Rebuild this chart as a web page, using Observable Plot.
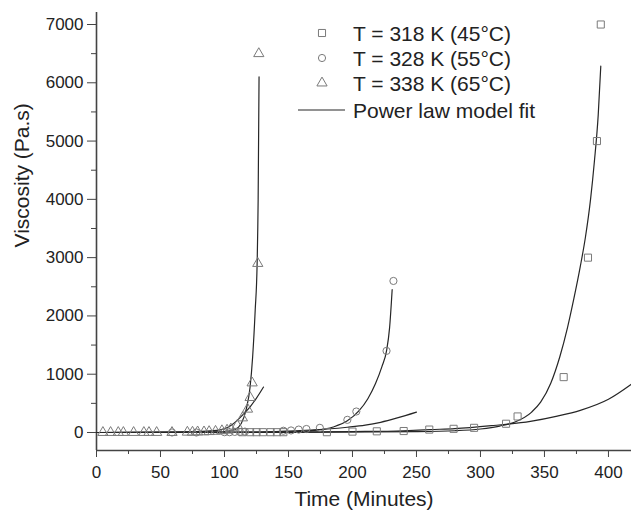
<!DOCTYPE html>
<html><head><meta charset="utf-8">
<script src="https://cdn.jsdelivr.net/npm/d3@7"></script>
<script src="https://cdn.jsdelivr.net/npm/@observablehq/plot@0.6"></script>
<style>
body{margin:0;background:#fff;}
#wrap{position:relative;width:631px;height:516px;font-family:"Liberation Sans",Arial,sans-serif;}
#legend{position:absolute;left:0;top:0;pointer-events:none;}
</style></head><body><div id="wrap"></div>
<script>
// ---- measured data (time in minutes, viscosity in Pa.s) ----
const t318 = [114, 120, 125, 130, 136, 141, 146, 180, 200, 219, 240, 260, 279, 295, 320, 329, 365, 384, 391, 394];
const v318 = [5, 5, 5, 5, 5, 5, 5, 5, 15, 20, 25, 50, 63, 80, 150, 275, 950, 3000, 5000, 7000];

const t328 = [59, 78, 100, 104, 108, 112, 116, 146, 152, 158, 164, 174.5, 196, 203, 226.6, 232];
const v328 = [0, 0, 5, 5, 10, 10, 15, 30, 35, 50, 60, 80, 217, 360, 1400, 2600];

const t338 = [5, 11, 17, 21, 29, 37, 41, 47, 59, 71, 75, 79, 84, 88, 93, 98, 102, 105, 110, 114, 118, 120, 121.6, 126, 126.8];
const v338 = [0, 0, 0, 0, 0, 0, 0, 0, 0, 5, 5, 10, 10, 15, 20, 30, 40, 60, 120, 250, 400, 600, 850, 2900, 6500];

// ---- power law model fit curves ----
const fit318aT = [0, 150, 250, 280, 300, 315, 327, 340, 347, 355, 362, 368, 373, 378, 382, 386, 389, 392, 394];
const fit318aV = [0, 2, 15, 30, 60, 110, 180, 350, 520, 850, 1300, 1800, 2300, 2850, 3350, 4000, 4650, 5450, 6285];
const fit318bT = [0, 150, 200, 240, 261, 280, 310, 339, 360, 378, 400, 418];
const fit318bV = [0, 5, 15, 30, 50, 65, 120, 190, 280, 380, 570, 830];

const fit328aT = [0, 120, 150, 170, 185, 196, 205, 212, 218, 223, 226.6, 229, 231];
const fit328aV = [0, 2, 10, 35, 95, 200, 370, 580, 840, 1130, 1400, 1800, 2450];
const fit328bT = [0, 120, 150, 180, 196, 210, 222, 235, 250];
const fit328bV = [0, 5, 25, 60, 90, 125, 175, 250, 350];

const fit338aT = [0, 60, 90, 100, 108, 113, 117, 120, 122, 124, 125.5, 126.3, 127];
const fit338aV = [0, 2, 8, 15, 50, 150, 400, 780, 1300, 2100, 2900, 4000, 6100];
const fit338bT = [0, 60, 94, 105, 115, 120, 125, 130.5];
const fit338bV = [0, 5, 35, 120, 320, 440, 590, 780];

const seriesLabels = ["T = 318 K (45°C)", "T = 328 K (55°C)", "T = 338 K (65°C)"];
const fitLabel = "Power law model fit";
const xMajor = [0, 50, 100, 150, 200, 250, 300, 350, 400];
const xMinor = [25, 75, 125, 175, 225, 275, 325, 375];
const yMajor = [0, 1000, 2000, 3000, 4000, 5000, 6000, 7000];
const yMinor = [500, 1500, 2500, 3500, 4500, 5500, 6500];

const pts = (ts, vs) => ts.map((t, i) => ({t, v: vs[i]}));
const markerColor = "#7a7a7a";
const lineColor = "#262626";
const fits = [[fit318aT, fit318aV], [fit318bT, fit318bV], [fit328aT, fit328aV], [fit328bT, fit328bV], [fit338aT, fit338aV], [fit338bT, fit338bV]];

const chart = Plot.plot({
  width: 631, height: 516,
  marginLeft: 96, marginRight: 0, marginTop: 12, marginBottom: 66,
  x: {domain: [0, 418]},
  y: {domain: [-309, 7206]},
  style: {fontFamily: "'Liberation Sans', Arial, sans-serif", fontSize: "17px", color: "#222", background: "white"},
  marks: [
    Plot.axisY(yMajor, {tickSize: 9, tickPadding: 4, fontSize: 17, tickFormat: d => String(d), label: null, stroke: "#444"}),
    Plot.axisY(yMinor, {tickSize: 5, text: null, label: null, stroke: "#444"}),
    Plot.axisX(xMajor, {tickSize: 7, tickPadding: 8, fontSize: 17, tickFormat: d => String(d), label: null, stroke: "#444"}),
    Plot.axisX(xMinor, {tickSize: 4, text: null, label: null, stroke: "#444"}),
    Plot.ruleX([0], {stroke: "#444", strokeWidth: 1.6}),
    Plot.ruleY([-309], {stroke: "#444", strokeWidth: 1.6}),
    Plot.text([ "Time (Minutes)" ], {frameAnchor: "bottom", dy: 55, fontSize: 21, fill: "#222"}),
    Plot.text([ "Viscosity (Pa.s)" ], {frameAnchor: "left", rotate: -90, dx: -74, dy: 16, fontSize: 21, fill: "#222"}),
    ...fits.map(([ts, vs]) => Plot.line(pts(ts, vs), {x: "t", y: "v", curve: "monotone-x", stroke: lineColor, strokeWidth: 1.2})),
    Plot.dot(pts(t318, v318), {x: "t", y: "v", symbol: "square", r: 4, stroke: markerColor, fill: "none", strokeWidth: 1}),
    Plot.dot(pts(t328, v328), {x: "t", y: "v", symbol: "circle", r: 3.6, stroke: markerColor, fill: "none", strokeWidth: 1}),
    Plot.dot(pts(t338, v338), {x: "t", y: "v", symbol: "triangle", r: 3.8, stroke: markerColor, fill: "none", strokeWidth: 1})
  ]
});
const wrap = document.getElementById("wrap");
wrap.appendChild(chart);

// legend overlay
const lg = d3.select(wrap).append("svg").attr("id", "legend").attr("width", 631).attr("height", 130)
  .style("font-family", "'Liberation Sans', Arial, sans-serif");
const syms = [[d3.symbolSquare, 4], [d3.symbolCircle, 3.6], [d3.symbolTriangle, 3.8]];
const rowY = [33, 58, 83];
syms.forEach(([s, r], i) => {
  lg.append("path").attr("d", d3.symbol(s, Math.PI * r * r)()).attr("transform", `translate(322,${rowY[i]})`)
    .attr("fill", "none").attr("stroke", markerColor);
  lg.append("text").attr("x", 353).attr("y", rowY[i]).attr("dy", "0.36em").attr("font-size", 21).attr("fill", "#222").text(seriesLabels[i]);
});
lg.append("line").attr("x1", 298).attr("x2", 345).attr("y1", 110).attr("y2", 110).attr("stroke", lineColor).attr("stroke-width", 1.2);
lg.append("text").attr("x", 353).attr("y", 110).attr("dy", "0.36em").attr("font-size", 21).attr("fill", "#222").text(fitLabel);
</script></body></html>
